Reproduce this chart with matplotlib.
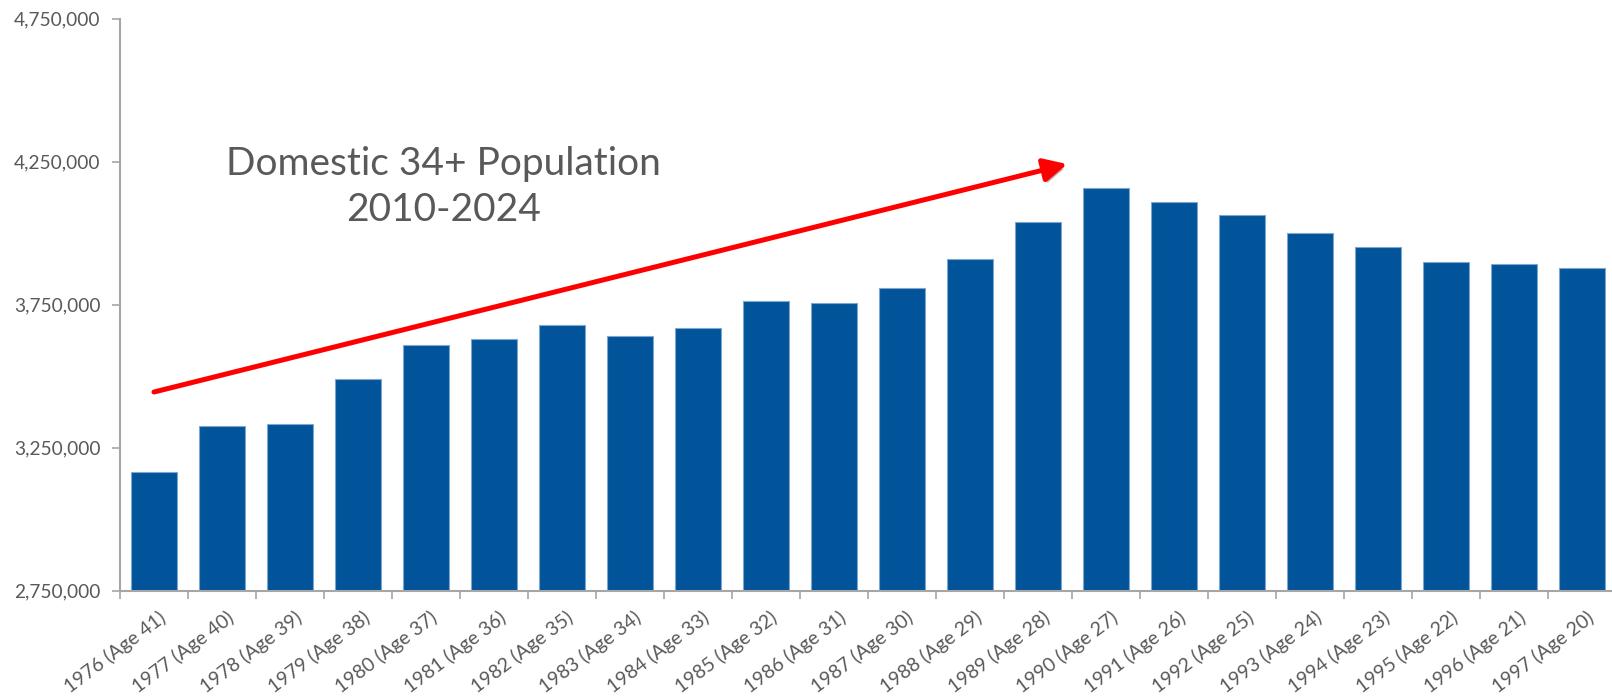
import matplotlib.pyplot as plt
import matplotlib.patheffects as pe
import matplotlib.transforms as mtransforms
import numpy as np

plt.rcParams['font.family'] = ['Lato', 'DejaVu Sans']

# Birth year (age) categories and population counts
YEARS = [1976, 1977, 1978, 1979, 1980, 1981, 1982, 1983, 1984, 1985, 1986,
         1987, 1988, 1989, 1990, 1991, 1992, 1993, 1994, 1995, 1996, 1997]
AGES = [41, 40, 39, 38, 37, 36, 35, 34, 33, 32, 31,
        30, 29, 28, 27, 26, 25, 24, 23, 22, 21, 20]
POPULATION = [3164000, 3326000, 3333000, 3491000, 3610000, 3628000, 3678000,
              3639000, 3667000, 3761000, 3754000, 3807000, 3908000, 4040000,
              4156000, 4109000, 4063000, 3999000, 3951000, 3897000, 3890000,
              3879000]
Y_TICKS = [2750000, 3250000, 3750000, 4250000, 4750000]

# Trend arrow end points (category index, population)
ARROW_START = (0.0, 3444000)
ARROW_END = (13.43, 4241000)

BAR_COLOR = '#02549a'
TEXT_COLOR = '#595959'
AXIS_COLOR = '#a6a6a6'

labels = [f"{y} (Age {a})" for y, a in zip(YEARS, AGES)]
x = np.arange(len(YEARS))

fig = plt.figure(figsize=(16.12, 6.98), dpi=100)
ax = fig.add_axes([120 / 1612, 107.5 / 698, 1496 / 1612, 572 / 698])

ax.bar(x, POPULATION, width=0.69, color=BAR_COLOR, edgecolor='#7fa6cf',
       linewidth=0.8, zorder=2)

ax.set_xlim(-0.5, len(YEARS) - 0.5)
ax.set_ylim(Y_TICKS[0], Y_TICKS[-1])

# y axis
ax.set_yticks(Y_TICKS)
ax.set_yticklabels([f"{v:,}" for v in Y_TICKS])
ax.tick_params(axis='y', direction='out', length=6, width=1.2,
               color=AXIS_COLOR, labelcolor=TEXT_COLOR, labelsize=13.8, pad=8)

# x axis: tick marks between categories, labels under the bars
ax.set_xticks(x)
ax.set_xticklabels(labels, rotation=37, ha='right', rotation_mode='anchor')
ax.set_xticks(np.arange(-0.5, len(YEARS)), minor=True)
ax.tick_params(axis='x', which='major', length=0, labelcolor=TEXT_COLOR,
               labelsize=14, pad=13)
ax.tick_params(axis='x', which='minor', direction='out', length=6, width=1.2,
               color=AXIS_COLOR)
shift = mtransforms.ScaledTranslation(4 / 100, 0, fig.dpi_scale_trans)
for lbl in ax.get_xticklabels():
    lbl.set_transform(lbl.get_transform() + shift)

for side in ['top', 'right']:
    ax.spines[side].set_visible(False)
for side in ['left', 'bottom']:
    ax.spines[side].set_color(AXIS_COLOR)
    ax.spines[side].set_linewidth(1.5)

ax.text(4.26, 4160000, "Domestic 34+ Population\n2010-2024", ha='center',
        va='center', fontsize=28, color=TEXT_COLOR, linespacing=1.34)

ax.annotate('', xy=ARROW_END, xytext=ARROW_START,
            arrowprops=dict(arrowstyle='-|>,head_length=0.7,head_width=0.35',
                            color='#ff0000', lw=3.6, mutation_scale=20,
                            shrinkA=0, shrinkB=0,
                            path_effects=[pe.SimplePatchShadow(offset=(1.5, -2.5),
                                                               alpha=0.3),
                                          pe.Normal()]),
            zorder=5)

fig.savefig('out.png', dpi=100)
